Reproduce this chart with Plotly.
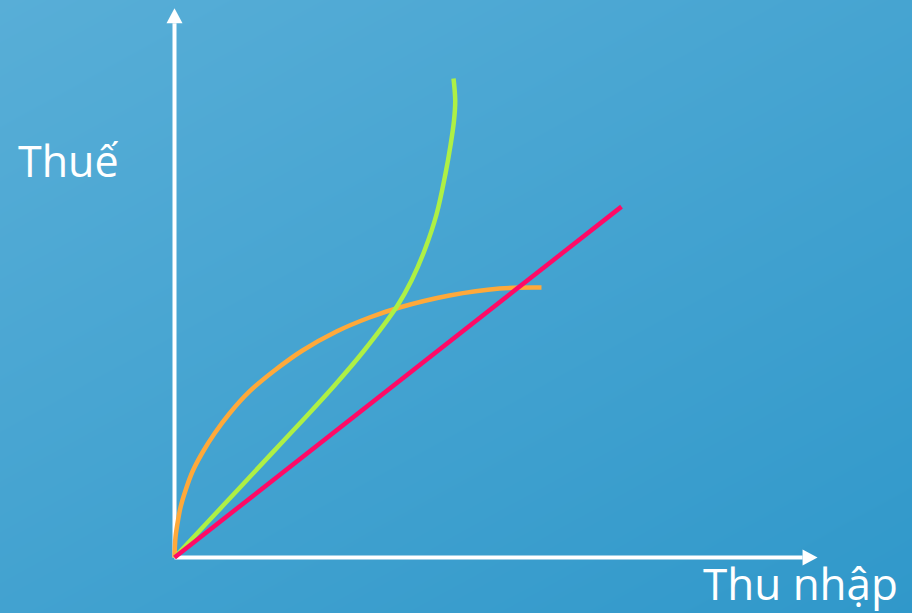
import numpy as np
import plotly.graph_objects as go

# Data (chart units)
red_x = [0, 10.0]
red_y = [0, 7.85]

orange_x = [0, 0.022, 0.067, 0.134, 0.246, 0.403, 0.626, 0.895, 1.230, 1.678, 2.237, 2.864, 3.624, 4.362, 5.034, 6.152, 7.271, 8.210]
orange_y = [0, 0.447, 0.761, 1.119, 1.499, 1.924, 2.349, 2.774, 3.221, 3.714, 4.183, 4.631, 5.056, 5.369, 5.593, 5.861, 6.018, 6.040]

green_x = [0, 0.716, 1.454, 2.170, 2.864, 3.579, 4.251, 4.989, 5.302, 5.593, 5.861, 6.063, 6.174, 6.253, 6.280, 6.242]
green_y = [0, 0.765, 1.555, 2.324, 3.065, 3.848, 4.642, 5.638, 6.197, 6.868, 7.673, 8.591, 9.217, 9.776, 10.224, 10.716]

x_label = "Thu nhập"
y_label = "Thuế"

# Layout geometry
W, H = 912, 613
k = 44.7               # px per unit
ox, oy = 174.5, 557.5  # origin px
xmin, xmax = -ox / k, (W - ox) / k
ymin, ymax = -(H - oy) / k, oy / k

fig = go.Figure()

# gradient background
gx = np.linspace(xmin, xmax, 30)
gy = np.linspace(ymin, ymax, 30)
GX, GY = np.meshgrid((gx - xmin) / (xmax - xmin), (gy - ymin) / (ymax - ymin))
Z = 0.45 * GX + 0.55 * (1 - GY)
fig.add_trace(go.Heatmap(x=gx, y=gy, z=Z, zsmooth="best", showscale=False,
                         colorscale=[[0, "#58AED7"], [1, "#3098CA"]], hoverinfo="skip"))

# axes
x_end = 14.05
y_end = 11.95
head_len = 15 / k
head_half = 8 / k
fig.add_trace(go.Scatter(x=[0, 0, None, 0, x_end], y=[y_end, 0, None, 0, 0], mode="lines",
                         line=dict(color="white", width=4), hoverinfo="skip"))
fig.add_trace(go.Scatter(x=[-head_half, head_half, 0, -head_half],
                         y=[y_end, y_end, y_end + head_len, y_end],
                         fill="toself", fillcolor="white", mode="lines",
                         line=dict(color="white", width=0), hoverinfo="skip"))
fig.add_trace(go.Scatter(x=[x_end, x_end, x_end + head_len, x_end],
                         y=[-head_half, head_half, 0, -head_half],
                         fill="toself", fillcolor="white", mode="lines",
                         line=dict(color="white", width=0), hoverinfo="skip"))

# curves
fig.add_trace(go.Scatter(x=orange_x, y=orange_y, mode="lines",
                         line=dict(color="#FFA93A", width=4.5, shape="spline", smoothing=1.0)))
fig.add_trace(go.Scatter(x=green_x, y=green_y, mode="lines",
                         line=dict(color="#AEF045", width=4.5, shape="spline", smoothing=1.0)))
fig.add_trace(go.Scatter(x=red_x, y=red_y, mode="lines", line=dict(color="#FF0A66", width=4.5)))

fig.update_xaxes(range=[xmin, xmax], visible=False, showgrid=False, zeroline=False)
fig.update_yaxes(range=[ymin, ymax], visible=False, showgrid=False, zeroline=False)

fig.add_annotation(text=y_label, xref="paper", yref="paper", x=16 / W, y=1 - 160 / H,
                   xanchor="left", yanchor="middle", showarrow=False,
                   font=dict(family="Open Sans", size=43, color="white"))
fig.add_annotation(text=x_label, xref="paper", yref="paper", x=701 / W, y=1 - 583 / H,
                   xanchor="left", yanchor="middle", showarrow=False,
                   font=dict(family="Open Sans", size=44, color="white"))

fig.update_layout(width=W, height=H, margin=dict(l=0, r=0, t=0, b=0),
                  showlegend=False, paper_bgcolor="#44A4D1", plot_bgcolor="#44A4D1")

fig.write_html("out.html", config={"displayModeBar": False},
               post_script="document.body.style.margin='0px';document.body.style.overflow='hidden';"
                           "document.body.style.background='#44A4D1';")
